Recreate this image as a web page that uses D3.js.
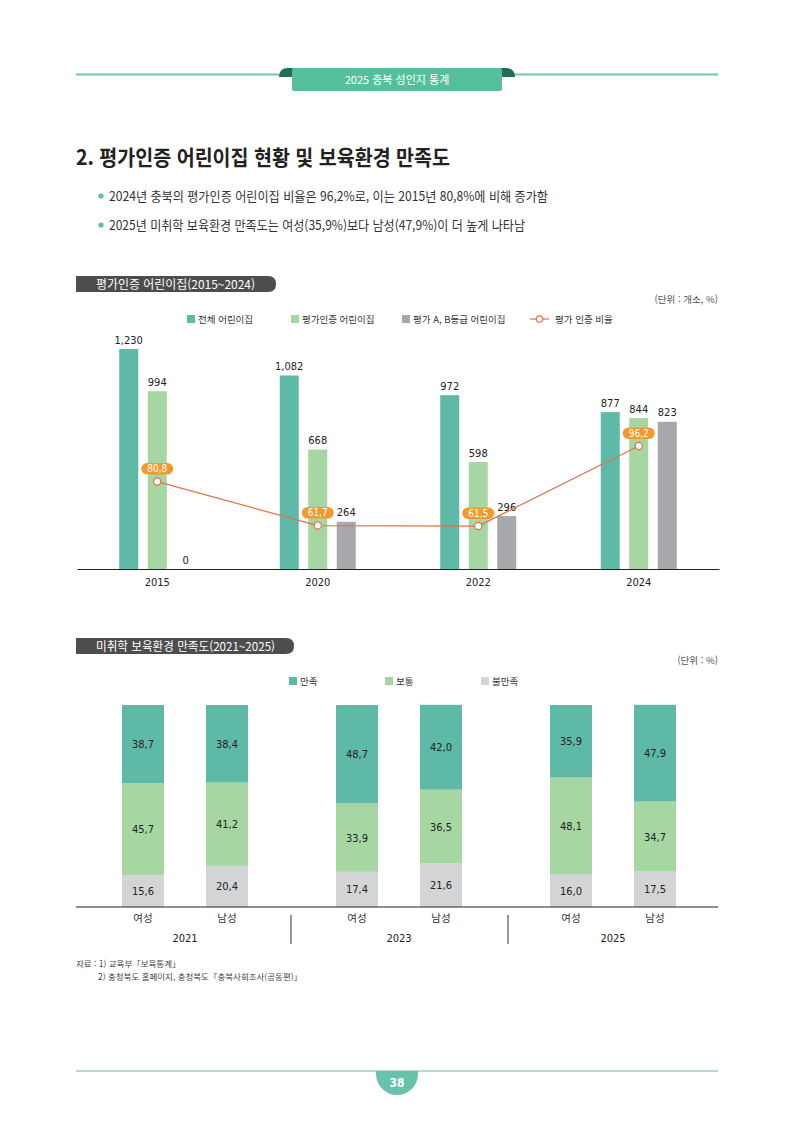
<!DOCTYPE html>
<html lang="ko">
<head>
<meta charset="utf-8">
<title>평가인증 어린이집 현황 및 보육환경 만족도</title>
<script src="https://cdn.jsdelivr.net/npm/d3@7"></script>
<style>
  body { margin: 0; background: #fff; }
  svg { display: block; font-family: "Noto Sans CJK KR", "Noto Sans", sans-serif; }
  .num { font-family: "DejaVu Sans Condensed", "Noto Sans CJK KR", sans-serif; font-stretch: condensed; }
</style>
</head>
<body>
<div id="chart"></div>
<script>
// 데이터 : 평가인증 어린이집 (2015~2024)
var years = ["2015", "2020", "2022", "2024"];
var seriesNames = ["전체 어린이집", "평가인증 어린이집", "평가 A, B등급 어린이집"];
var totalCenters = [1230, 1082, 972, 877];
var certifiedCenters = [994, 668, 598, 844];
var gradeABCenters = [0, 264, 296, 823];
var certRate = [80.8, 61.7, 61.5, 96.2];
var rateName = "평가 인증 비율";

// 데이터 : 미취학 보육환경 만족도 (2021~2025)
var surveyYears = ["2021", "2023", "2025"];
var sexes = ["여성", "남성"];
var levels = ["만족", "보통", "불만족"];
var satisfied = [38.7, 38.4, 48.7, 42.0, 35.9, 47.9];
var neutral = [45.7, 41.2, 33.9, 36.5, 48.1, 34.7];
var dissatisfied = [15.6, 20.4, 17.4, 21.6, 16.0, 17.5];

var TEAL = "#5fb9a7", GREEN = "#a6d7a3", GRAY = "#a7a8ab", LGRAY = "#d3d4d6";
var LINE = "#e3704a", PILL = "#f29a2e", TXT = "#333";

var svg = d3.select("#chart").append("svg")
    .attr("width", 794)
    .attr("height", 1123);

// 페이지 머리
svg.append("line").attr("x1", 76).attr("x2", 718).attr("y1", 74.5).attr("y2", 74.5)
    .attr("stroke", "#6ccab0").attr("stroke-width", 2);
svg.append("path").attr("d", "M279,77 Q279,68 288,68 L293,68 L293,77 Z").attr("fill", "#1f6e58");
svg.append("path").attr("d", "M515,77 Q515,68 506,68 L501,68 L501,77 Z").attr("fill", "#1f6e58");
svg.append("rect").attr("x", 292).attr("y", 68).attr("width", 210).attr("height", 23).attr("rx", 2)
    .attr("fill", "#55bf9c");
svg.append("text").attr("x", 397).attr("y", 84).attr("text-anchor", "middle")
    .attr("font-size", 11).attr("fill", "#fff").text("2025 충북 성인지 통계");

// 제목
svg.append("text").attr("x", 76).attr("y", 165)
    .attr("font-size", 21).attr("font-weight", 700).attr("fill", "#222")
    .attr("textLength", 374).attr("lengthAdjust", "spacingAndGlyphs")
    .text("2. 평가인증 어린이집 현황 및 보육환경 만족도");

var bullets = [
    "2024년 충북의 평가인증 어린이집 비율은 96,2%로, 이는 2015년 80,8%에 비해 증가함",
    "2025년 미취학 보육환경 만족도는 여성(35,9%)보다 남성(47,9%)이 더 높게 나타남"
];
var bulletLen = [439, 416];
bullets.forEach(function (b, i) {
    var yy = 196 + i * 29;
    svg.append("circle").attr("cx", 101).attr("cy", yy).attr("r", 2.6).attr("fill", TEAL);
    svg.append("text").attr("x", 109).attr("y", yy + 4.5)
        .attr("font-size", 13).attr("fill", TXT)
        .attr("textLength", bulletLen[i]).attr("lengthAdjust", "spacingAndGlyphs")
        .text(b);
});

// 소제목 탭
function sectionTab(y, w, label, tw) {
    svg.append("path")
        .attr("d", "M76," + y + " L" + (76 + w - 8) + "," + y +
            " Q" + (76 + w) + "," + y + " " + (76 + w) + "," + (y + 8) +
            " Q" + (76 + w) + "," + (y + 16) + " " + (76 + w - 8) + "," + (y + 16) +
            " L76," + (y + 16) + " Z")
        .attr("fill", "#4d4d4d");
    svg.append("text").attr("x", 96).attr("y", y + 12.5)
        .attr("font-size", 12).attr("fill", "#fff")
        .attr("textLength", tw).attr("lengthAdjust", "spacingAndGlyphs")
        .text(label);
}
sectionTab(276, 200, "평가인증 어린이집(2015~2024)", 159);
sectionTab(638, 218, "미취학 보육환경 만족도(2021~2025)", 179);

svg.append("text").attr("x", 718).attr("y", 303).attr("text-anchor", "end")
    .attr("font-size", 9.5).attr("fill", "#555").text("(단위 : 개소, %)");
svg.append("text").attr("x", 718).attr("y", 664).attr("text-anchor", "end")
    .attr("font-size", 9.5).attr("fill", "#555").text("(단위 : %)");

// ---------- 첫번째 차트 ----------
var barColors = [TEAL, GREEN, GRAY];
var barValues = [totalCenters, certifiedCenters, gradeABCenters];

var x0 = d3.scaleBand().domain(years).range([77, 719]);
var x1 = d3.scaleBand().domain(seriesNames).range([0, 76]).paddingInner(0.333);
var y = d3.scaleLinear().domain([0, 1400]).range([569, 318.6]);
var y2 = d3.scaleLinear().domain([40, 140]).range([575.6, 345.1]);

function groupLeft(yr) { return x0(yr) + x0.bandwidth() / 2 - 38; }

var chart1 = svg.append("g");
var rows = [];
years.forEach(function (yr, i) {
    seriesNames.forEach(function (s, j) {
        rows.push({ year: yr, series: s, value: barValues[j][i], color: barColors[j] });
    });
});

chart1.selectAll("rect.bar").data(rows).join("rect")
    .attr("class", "bar")
    .attr("x", function (d) { return groupLeft(d.year) + x1(d.series); })
    .attr("y", function (d) { return y(d.value); })
    .attr("width", x1.bandwidth())
    .attr("height", function (d) { return y(0) - y(d.value); })
    .attr("fill", function (d) { return d.color; });

chart1.selectAll("text.val").data(rows).join("text")
    .attr("class", "val num")
    .attr("x", function (d) { return groupLeft(d.year) + x1(d.series) + x1.bandwidth() / 2; })
    .attr("y", function (d) { return y(d.value) - 5.5; })
    .attr("text-anchor", "middle")
    .attr("font-size", 11).attr("fill", "#222")
    .text(function (d) { return d3.format(",")(d.value); });

var ax1 = chart1.append("g")
    .attr("transform", "translate(0,569)")
    .call(d3.axisBottom(x0).tickSize(0).tickSizeOuter(0).tickPadding(9));
ax1.select(".domain").attr("stroke", "#222").attr("stroke-width", 1.2);
ax1.selectAll("text").attr("class", "num").attr("font-size", 11).attr("fill", "#222")
    .attr("font-family", null);

// 평가 인증 비율 선
var ratePts = years.map(function (yr, i) {
    return { x: x0(yr) + x0.bandwidth() / 2, y: y2(certRate[i]), v: certRate[i] };
});
chart1.append("path").datum(ratePts)
    .attr("d", d3.line().x(function (d) { return d.x; }).y(function (d) { return d.y; }))
    .attr("fill", "none").attr("stroke", LINE).attr("stroke-width", 1.2);
chart1.selectAll("circle.pt").data(ratePts).join("circle")
    .attr("class", "pt").attr("cx", function (d) { return d.x; }).attr("cy", function (d) { return d.y; })
    .attr("r", 3.6).attr("fill", "#fff").attr("stroke", LINE).attr("stroke-width", 1.2);
chart1.selectAll("rect.pill").data(ratePts).join("rect")
    .attr("class", "pill")
    .attr("x", function (d) { return d.x - 16; }).attr("y", function (d) { return d.y - 18.5; })
    .attr("width", 32).attr("height", 11.5).attr("rx", 5.75).attr("fill", PILL);
chart1.selectAll("text.pillt").data(ratePts).join("text")
    .attr("class", "pillt num")
    .attr("x", function (d) { return d.x; }).attr("y", function (d) { return d.y - 9.2; })
    .attr("text-anchor", "middle").attr("font-size", 10).attr("fill", "#fff")
    .text(function (d) { return d3.format(".1f")(d.v).replace(".", ","); });

// 범례 1
var leg1X = [187, 291, 402];
seriesNames.forEach(function (s, j) {
    svg.append("rect").attr("x", leg1X[j]).attr("y", 315).attr("width", 8).attr("height", 8).attr("fill", barColors[j]);
    svg.append("text").attr("x", leg1X[j] + 11).attr("y", 322.5).attr("font-size", 9.5).attr("fill", TXT).text(s);
});
svg.append("line").attr("x1", 530).attr("x2", 549).attr("y1", 319).attr("y2", 319).attr("stroke", LINE).attr("stroke-width", 1.2);
svg.append("circle").attr("cx", 539.5).attr("cy", 319).attr("r", 3.2).attr("fill", "#fff").attr("stroke", LINE).attr("stroke-width", 1.2);
svg.append("text").attr("x", 555).attr("y", 322.5).attr("font-size", 9.5).attr("fill", TXT).text(rateName);

// ---------- 두번째 차트 ----------
var levelColors = { "만족": TEAL, "보통": GREEN, "불만족": LGRAY };
var surveyRows = [];
surveyYears.forEach(function (yr, i) {
    sexes.forEach(function (sx, j) {
        var k = i * 2 + j;
        surveyRows.push({ year: yr, sex: sx, "만족": satisfied[k], "보통": neutral[k], "불만족": dissatisfied[k] });
    });
});

var g0 = d3.scaleBand().domain(surveyYears).range([78, 720]);
var g1 = d3.scaleBand().domain(sexes).range([0, 126]).paddingInner(0.5);
var yS = d3.scaleLinear().domain([0, 100]).range([907, 705]);
function sexLeft(d) { return g0(d.year) + g0.bandwidth() / 2 - 63 + g1(d.sex); }

var stacked = d3.stack().keys(["불만족", "보통", "만족"])(surveyRows);
var chart2 = svg.append("g");
var layer = chart2.selectAll("g.layer").data(stacked).join("g")
    .attr("class", "layer")
    .attr("fill", function (d) { return levelColors[d.key]; });
layer.selectAll("rect").data(function (d) { return d; }).join("rect")
    .attr("x", function (d) { return sexLeft(d.data); })
    .attr("y", function (d) { return yS(d[1]); })
    .attr("width", g1.bandwidth())
    .attr("height", function (d) { return yS(d[0]) - yS(d[1]); });
layer.selectAll("text").data(function (d) { return d.map(function (p) { p.key = d.key; return p; }); }).join("text")
    .attr("class", "num")
    .attr("x", function (d) { return sexLeft(d.data) + g1.bandwidth() / 2; })
    .attr("y", function (d) { return (yS(d[0]) + yS(d[1])) / 2 + 4; })
    .attr("text-anchor", "middle").attr("font-size", 11).attr("fill", "#222")
    .text(function (d) { return d3.format(".1f")(d.data[d.key]).replace(".", ","); });

chart2.append("line").attr("x1", 76).attr("x2", 718).attr("y1", 907).attr("y2", 907)
    .attr("stroke", "#222").attr("stroke-width", 1.2);
chart2.selectAll("text.sex").data(surveyRows).join("text")
    .attr("class", "sex")
    .attr("x", function (d) { return sexLeft(d) + g1.bandwidth() / 2; })
    .attr("y", 922).attr("text-anchor", "middle").attr("font-size", 10.5).attr("fill", TXT)
    .text(function (d) { return d.sex; });
chart2.selectAll("text.yr").data(surveyYears).join("text")
    .attr("class", "yr num")
    .attr("x", function (d) { return g0(d) + g0.bandwidth() / 2; })
    .attr("y", 942).attr("text-anchor", "middle").attr("font-size", 11).attr("fill", "#222")
    .text(function (d) { return d; });
chart2.selectAll("line.sep").data(surveyYears.slice(1)).join("line")
    .attr("class", "sep")
    .attr("x1", function (d, i) { return g0(d) - 1 + i * 3; }).attr("x2", function (d, i) { return g0(d) - 1 + i * 3; })
    .attr("y1", 915).attr("y2", 944).attr("stroke", "#333").attr("stroke-width", 1);

// 범례 2
var leg2X = [289, 385, 481];
levels.forEach(function (l, j) {
    svg.append("rect").attr("x", leg2X[j]).attr("y", 677).attr("width", 8).attr("height", 8).attr("fill", levelColors[l]);
    svg.append("text").attr("x", leg2X[j] + 11).attr("y", 684.5).attr("font-size", 9.5).attr("fill", TXT).text(l);
});

// 자료 출처
svg.append("text").attr("x", 76).attr("y", 967).attr("font-size", 8.5).attr("fill", "#444")
    .text("자료 : 1) 교육부「보육통계」");
svg.append("text").attr("x", 98).attr("y", 980).attr("font-size", 8.5).attr("fill", "#444")
    .text("2) 충청북도 홈페이지, 충청북도「충북사회조사(공동편)」");

// 쪽 번호
svg.append("line").attr("x1", 76).attr("x2", 718).attr("y1", 1071).attr("y2", 1071)
    .attr("stroke", "#5fb9a7").attr("stroke-width", 1.2);
svg.append("path").attr("d", "M376,1071 L418,1071 L418,1074 A21,21 0 0 1 376,1074 Z").attr("fill", "#66c2ab");
svg.append("text").attr("class", "num").attr("x", 397).attr("y", 1087).attr("text-anchor", "middle")
    .attr("font-size", 12).attr("font-weight", 700).attr("fill", "#fff").text("38");
</script>
</body>
</html>
